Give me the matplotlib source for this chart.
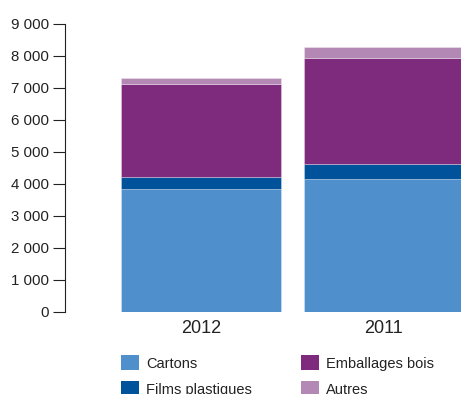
import matplotlib
matplotlib.use("Agg")
import matplotlib.pyplot as plt
from matplotlib.patches import Patch

plt.rcParams["font.family"] = ["Liberation Sans", "DejaVu Sans"]

years = ["2012", "2011"]
cartons = [3840, 4150]
films = [365, 460]
emballages = [2910, 3325]
autres = [190, 320]
yticks = [0, 1000, 2000, 3000, 4000, 5000, 6000, 7000, 8000, 9000]
ytick_labels = ["0", "1 000", "2 000", "3 000", "4 000", "5 000", "6 000", "7 000", "8 000", "9 000"]

series = [
    ("Cartons", cartons, "#4f8fcc"),
    ("Films plastiques", films, "#00529b"),
    ("Emballages bois", emballages, "#7e2b7d"),
    ("Autres", autres, "#b388b5"),
]

fig = plt.figure(figsize=(4.61, 3.94), dpi=100)
ax = fig.add_axes([65 / 461, (394 - 311.7) / 394, 1 - 65 / 461, (311.7 - 23.5) / 394])

x = list(range(len(years)))
bottom = [0] * len(years)
for name, vals, col in series:
    ax.bar(x, vals, width=0.874, bottom=bottom, color=col, edgecolor=(1, 1, 1, 0.35),
           linewidth=0.6, label=name)
    bottom = [b + v for b, v in zip(bottom, vals)]

ax.set_ylim(0, 9000)
ax.set_xlim(-0.743, 1.421)
ax.set_yticks(yticks)
ax.set_yticklabels(ytick_labels, fontsize=10.8, color="#222222")
ax.set_xticks(x)
ax.set_xticklabels(years, fontsize=13, color="#222222")
ax.tick_params(axis="y", direction="out", length=8.5, width=0.8, color="#222222", pad=3)
ax.tick_params(axis="x", length=0, pad=6)
for s in ["top", "right", "bottom"]:
    ax.spines[s].set_visible(False)
ax.spines["left"].set_linewidth(0.8)
ax.spines["left"].set_color("#222222")

handles = [Patch(facecolor=c, label=n) for n, _, c in series]
fig.legend(handles=handles, ncol=2, loc="upper left", bbox_to_anchor=(108 / 461, 1 - 342 / 394),
           frameon=False, fontsize=10.5, handlelength=1.2, handleheight=1.2,
           handletextpad=0.5, columnspacing=3.4, labelspacing=0.75, labelcolor="#222222")

fig.savefig("out.png", dpi=100)
